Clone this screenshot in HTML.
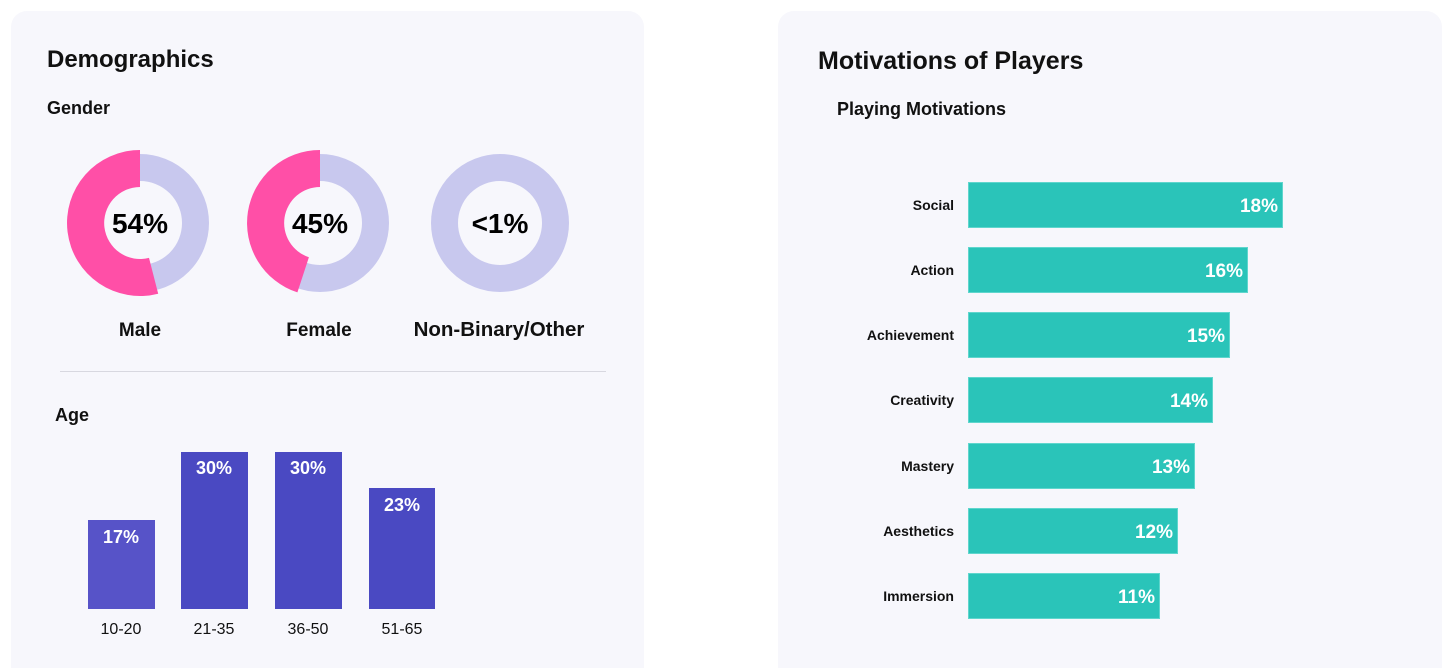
<!DOCTYPE html>
<html><head><meta charset="utf-8"><style>
html,body{margin:0;padding:0;background:#fff;width:1456px;height:668px;overflow:hidden}
svg{display:block}
text{font-family:"Liberation Sans",sans-serif}
</style></head><body>
<svg width="1456" height="668" viewBox="0 0 1456 668" xmlns="http://www.w3.org/2000/svg">
<rect x="11" y="11" width="633" height="680" rx="16" fill="#f7f7fc"/>
<rect x="778" y="11" width="664" height="680" rx="16" fill="#f7f7fc"/>

<text x="47" y="67" font-size="24" font-weight="bold" fill="#111">Demographics</text>
<text x="47" y="114" font-size="18" font-weight="bold" fill="#111">Gender</text>

<circle cx="140" cy="223" r="55.5" fill="none" stroke="#c8c8ee" stroke-width="27"/>
<path d="M140,150 A73,73 0 1 0 158.2,293.7 L149,257.9 A36,36 0 1 1 140,187 Z" fill="#ff4fa7"/>
<circle cx="320" cy="223" r="55.5" fill="none" stroke="#c8c8ee" stroke-width="27"/>
<path d="M320,150 A73,73 0 0 0 297.4,292.4 L308.9,257.2 A36,36 0 0 1 320,187 Z" fill="#ff4fa7"/>
<circle cx="500" cy="223" r="55.5" fill="none" stroke="#c8c8ee" stroke-width="27"/>

<g font-size="28" font-weight="bold" fill="#000" text-anchor="middle">
<text x="140" y="233">54%</text>
<text x="320" y="233">45%</text>
<text x="500" y="233">&lt;1%</text>
</g>
<g font-size="19" font-weight="bold" fill="#111" text-anchor="middle">
<text x="140" y="336">Male</text>
<text x="319" y="336">Female</text>
<text x="499" y="336" font-size="20.5">Non-Binary/Other</text>
</g>
<line x1="60" y1="371.5" x2="606" y2="371.5" stroke="#d8d8e0" stroke-width="1"/>

<text x="55" y="421" font-size="18" font-weight="bold" fill="#111">Age</text>
<rect x="88" y="520" width="67" height="89" fill="#5753c8"/>
<rect x="181" y="452" width="67" height="157" fill="#4a49c2"/>
<rect x="275" y="452" width="67" height="157" fill="#4a49c2"/>
<rect x="369" y="488" width="66" height="121" fill="#4a49c2"/>
<g font-size="18" font-weight="bold" fill="#fff" text-anchor="middle">
<text x="121" y="543">17%</text>
<text x="214" y="474">30%</text>
<text x="308" y="474">30%</text>
<text x="402" y="511">23%</text>
</g>
<g font-size="16" fill="#111" text-anchor="middle">
<text x="121" y="634">10-20</text>
<text x="214" y="634">21-35</text>
<text x="308" y="634">36-50</text>
<text x="402" y="634">51-65</text>
</g>

<text x="818" y="69" font-size="25" font-weight="bold" fill="#111">Motivations of Players</text>
<text x="837" y="115" font-size="18" font-weight="bold" fill="#111">Playing Motivations</text>

<g fill="#2ac4b9" stroke="#5fd6cd" stroke-width="1">
<rect x="968.5" y="182.5" width="314" height="45"/>
<rect x="968.5" y="247.5" width="279" height="45"/>
<rect x="968.5" y="312.5" width="261" height="45"/>
<rect x="968.5" y="377.5" width="244" height="45"/>
<rect x="968.5" y="443.5" width="226" height="45"/>
<rect x="968.5" y="508.5" width="209" height="45"/>
<rect x="968.5" y="573.5" width="191" height="45"/>
</g>
<g font-size="14" font-weight="bold" fill="#111" text-anchor="end">
<text x="954" y="210">Social</text>
<text x="954" y="275">Action</text>
<text x="954" y="340">Achievement</text>
<text x="954" y="405">Creativity</text>
<text x="954" y="471">Mastery</text>
<text x="954" y="536">Aesthetics</text>
<text x="954" y="601">Immersion</text>
</g>
<g font-size="19" font-weight="bold" fill="#fff" text-anchor="end">
<text x="1278" y="212">18%</text>
<text x="1243" y="277">16%</text>
<text x="1225" y="342">15%</text>
<text x="1208" y="407">14%</text>
<text x="1190" y="473">13%</text>
<text x="1173" y="538">12%</text>
<text x="1155" y="603">11%</text>
</g>
</svg>
</body></html>
